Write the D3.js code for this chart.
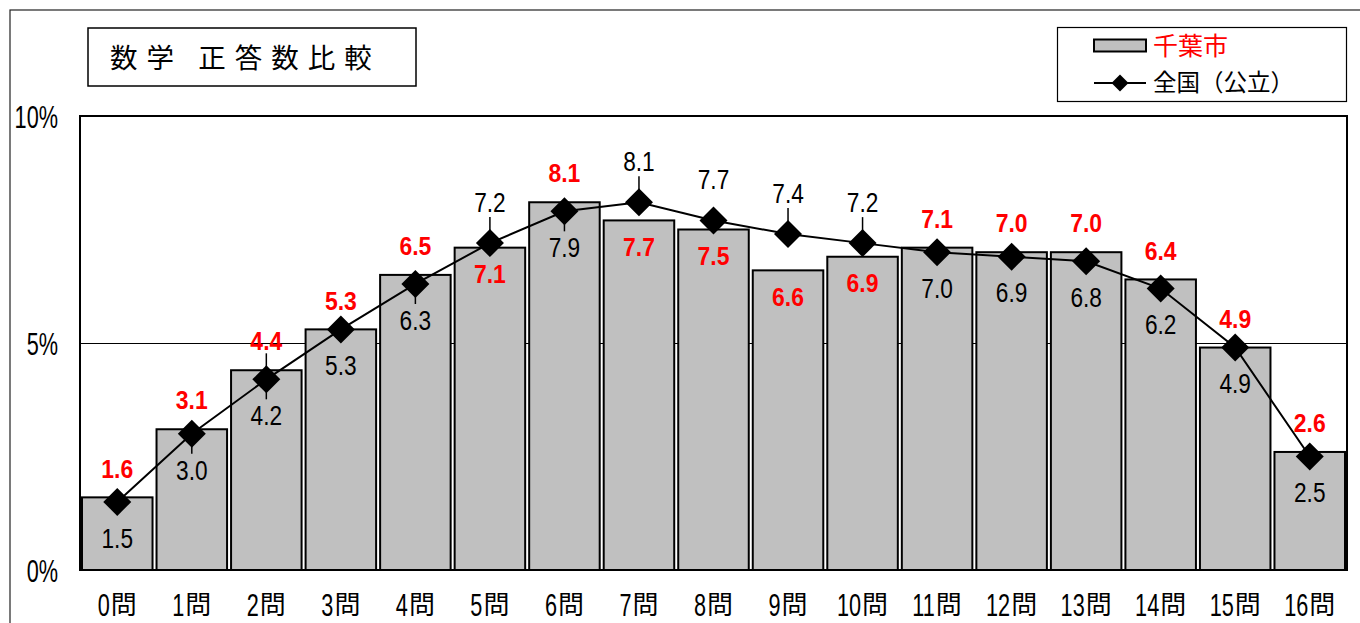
<!DOCTYPE html>
<html><head><meta charset="utf-8">
<script src="https://cdn.jsdelivr.net/npm/d3@7"></script>
<style>
html,body{margin:0;padding:0;background:#fff;}
svg{display:block;}
.num{font-family:"Liberation Sans",Arial,sans-serif;}
.jp{font-family:"Noto Sans CJK JP",sans-serif;}
</style></head>
<body>
<svg id="c" width="1360" height="623"></svg>
<script>
const categories = ["0問","1問","2問","3問","4問","5問","6問","7問","8問","9問","10問","11問","12問","13問","14問","15問","16問"];
const chibaValues = [1.6,3.1,4.4,5.3,6.5,7.1,8.1,7.7,7.5,6.6,6.9,7.1,7.0,7.0,6.4,4.9,2.6];
const nationalValues = [1.5,3.0,4.2,5.3,6.3,7.2,7.9,8.1,7.7,7.4,7.2,7.0,6.9,6.8,6.2,4.9,2.5];
const yTicks = [0,5,10];
const yTickLabels = ["0%","5%","10%"];
const titleText = "数学 正答数比較";
const seriesNames = ["千葉市","全国（公立）"];
// leader lines on the national series labels: 1 = up, -1 = down, 2 = both, 0 = none
const leaderDir = [0,-1,2,0,-1,1,-1,1,0,1,1,0,0,0,0,0,0];

const svg = d3.select("#c");
const W = 1360, H = 623;
const plot = {left:80, right:1347, top:116, bottom:570};

// outer frame
svg.append("rect").attr("x",10).attr("y",10).attr("width",W+20).attr("height",H+20)
  .attr("fill","none").attr("stroke","#222").attr("stroke-width",1.2);

const x = d3.scaleBand().domain(categories).range([plot.left,plot.right]).padding(0);
const y = d3.scaleLinear().domain([0,10]).range([plot.bottom,plot.top]);

// gridline at 5%
svg.append("g").selectAll("line").data(yTicks.filter(t=>t>0&&t<10)).join("line")
  .attr("x1",plot.left).attr("x2",plot.right)
  .attr("y1",d=>y(d)+0.5).attr("y2",d=>y(d)+0.5)
  .attr("stroke","#000").attr("stroke-width",1);

// bars
const bw = x.bandwidth();
svg.append("g").selectAll("rect").data(chibaValues).join("rect")
  .attr("x",(d,i)=>x(categories[i])+2)
  .attr("width",bw-4)
  .attr("y",d=>y(d))
  .attr("height",d=>plot.bottom-y(d))
  .attr("fill","#c0c0c0").attr("stroke","#000").attr("stroke-width",2);

// plot frame
svg.append("rect").attr("x",plot.left).attr("y",plot.top)
  .attr("width",plot.right-plot.left).attr("height",plot.bottom-plot.top)
  .attr("fill","none").attr("stroke","#000").attr("stroke-width",2);

// line
const cx = i => x(categories[i]) + bw/2;
const line = d3.line().x((d,i)=>cx(i)).y(d=>y(d));
svg.append("path").datum(nationalValues).attr("d",line)
  .attr("fill","none").attr("stroke","#000").attr("stroke-width",2);
const R = 14;
const dia = r => `M0,${-r}L${r},0L0,${r}L${-r},0Z`;
// leader lines
const ll = svg.append("g").attr("stroke","#000").attr("stroke-width",1.5);
nationalValues.forEach((v,i)=>{
  const d = leaderDir[i];
  if (d===1 || d===2) ll.append("line").attr("x1",cx(i)).attr("x2",cx(i)).attr("y1",y(v)-R-12).attr("y2",y(v));
  if (d===-1 || d===2) ll.append("line").attr("x1",cx(i)).attr("x2",cx(i)).attr("y1",y(v)).attr("y2",y(v)+R+6);
});
svg.append("g").selectAll("path").data(nationalValues).join("path")
  .attr("transform",(d,i)=>`translate(${cx(i)},${y(d)})`)
  .attr("d",dia(R)).attr("fill","#000");

// data labels (narrow, tall digits)
function numLabel(g, px, py, txt, size, sx, bold, color){
  g.append("text").attr("class","num")
    .attr("transform",`translate(${px},${py}) scale(${sx},1)`)
    .attr("dy","0.36em").attr("text-anchor","middle")
    .attr("font-size",size).attr("font-weight",bold?"bold":"normal")
    .attr("fill",color).text(txt);
}
const lg = svg.append("g");
chibaValues.forEach((v,i)=>{
  const n = nationalValues[i];
  const redAbove = v >= n;
  const ry = redAbove ? y(v) - 29 : y(v) + 26;
  const by = redAbove ? y(n) + 36 : y(n) - 41;
  numLabel(lg, cx(i), ry, v.toFixed(1), 25.5, 0.9, true, "#ff0000");
  numLabel(lg, cx(i), by, n.toFixed(1), 27, 0.84, false, "#000");
});

// y-axis labels
const yAxis = d3.axisLeft(y).tickValues(yTicks).tickFormat((d,i)=>yTickLabels[i]).tickSize(0).tickPadding(0);
const ya = svg.append("g").attr("transform",`translate(58,0)`).call(yAxis);
ya.select(".domain").remove();
ya.selectAll(".tick text")
  .attr("class","num").attr("font-size",31).attr("fill","#000")
  .attr("text-anchor","end").attr("x",0).attr("y",0).attr("dy","0.36em")
  .attr("transform","scale(0.7,1)");

// x-axis labels: narrow digits + 問
const xAxis = d3.axisBottom(x).tickSize(0).tickPadding(0);
const xa = svg.append("g").attr("transform",`translate(0,605)`).call(xAxis);
xa.select(".domain").remove();
xa.selectAll(".tick").each(function(d){
  const tick = d3.select(this);
  tick.select("text").remove();
  const numPart = d.replace("問","");
  const sx = 0.7;
  const tn = tick.append("text").attr("class","num").attr("font-size",31)
    .attr("text-anchor","start").attr("dy","0.36em").attr("fill","#000").text(numPart);
  const tk = tick.append("text").attr("class","jp").attr("font-size",26)
    .attr("text-anchor","start").attr("dy","0.36em").attr("fill","#000").text("問");
  const wn = tn.node().getComputedTextLength()*sx;
  const wk = tk.node().getComputedTextLength();
  const start = -(wn + 1 + wk)/2;
  tn.attr("transform",`translate(${start},0) scale(${sx},1)`);
  tk.attr("x", start + wn + 1).attr("y",-0.5);
});

// title
svg.append("rect").attr("x",88).attr("y",28).attr("width",328).attr("height",58)
  .attr("fill","#fff").attr("stroke","#000").attr("stroke-width",1.5);
svg.append("text").attr("class","jp").attr("x",110).attr("y",58).attr("dy","0.36em")
  .attr("font-size",27.5).attr("letter-spacing","9px").attr("fill","#000")
  .attr("xml:space","preserve").text(titleText);

// legend
svg.append("rect").attr("x",1057.5).attr("y",27.5).attr("width",289).attr("height",74)
  .attr("fill","#fff").attr("stroke","#000").attr("stroke-width",1.2);
svg.append("rect").attr("x",1094).attr("y",39.5).attr("width",52).attr("height",12)
  .attr("fill","#c0c0c0").attr("stroke","#000").attr("stroke-width",2);
svg.append("line").attr("x1",1094).attr("x2",1146).attr("y1",83).attr("y2",83)
  .attr("stroke","#000").attr("stroke-width",2);
svg.append("path").attr("transform","translate(1120,83)").attr("d",dia(8.5)).attr("fill","#000");
svg.append("text").attr("class","jp").attr("x",1153).attr("y",46).attr("dy","0.36em")
  .attr("font-size",25).attr("fill","#ff0000").text(seriesNames[0]);
svg.append("text").attr("class","jp").attr("x",1153).attr("y",83).attr("dy","0.36em")
  .attr("font-size",23.5).attr("fill","#000").text(seriesNames[1]);
</script>
</body></html>
